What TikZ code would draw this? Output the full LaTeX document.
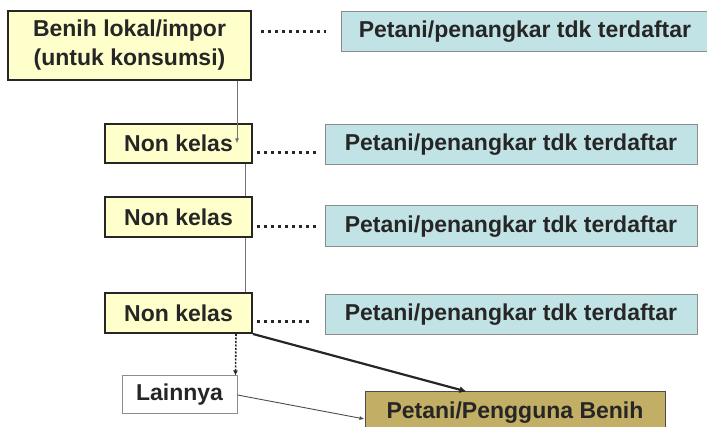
\documentclass[tikz,border=0pt]{standalone}
\usepackage{fontspec}
\setmainfont{Liberation Sans}
\usepackage{tikz}
\usetikzlibrary{arrows.meta,positioning,calc}
\definecolor{kuning}{HTML}{FFFFCC}
\definecolor{biru}{HTML}{C2E3E5}
\definecolor{zaitun}{HTML}{C2AE64}

\begin{document}
\begin{tikzpicture}[x=1pt, y=-1pt,
    every node/.style={font=\fontsize{23}{29}\selectfont\bfseries, text=black!85, inner sep=0pt},
    kelas/.style={draw=black!85, line width=2pt, fill=kuning, minimum width=147pt, minimum height=39pt},
    daftar/.style={draw=black!45, line width=1pt, fill=biru, minimum width=372pt, minimum height=40pt},
    titik/.style={line width=3pt, dash pattern=on 3pt off 4pt, black!85},
    alur/.style={black!55, line width=0.9pt}]
    \useasboundingbox (0,0) rectangle (707,427);

    \node[kelas, minimum width=243pt, minimum height=69pt, align=center] (src) at (129.5,45.5) {\raisebox{-3pt}{Benih lokal/impor}\\\raisebox{-3pt}{(untuk konsumsi)}};
    \node[daftar, minimum width=368pt] (reg1) at (525,32) {Petani/penangkar tdk terdaftar};

    \node[kelas] (nk1) at (178.5,143.5) {Non kelas};
    \node[kelas, minimum height=40pt] (nk2) at (178.5,217) {Non kelas};
    \node[kelas, minimum height=40pt] (nk3) at (178.5,313) {Non kelas};
    \node[daftar] (reg2) at (511,145) {Petani/penangkar tdk terdaftar};
    \node[daftar, minimum height=41pt] (reg3) at (511,226.5) {Petani/penangkar tdk terdaftar};
    \node[daftar] (reg4) at (511,315) {Petani/penangkar tdk terdaftar};

    \node[draw=black!45, line width=1pt, fill=white, minimum width=115pt, minimum height=38pt] (lain) at (179.5,395) {Lainnya};
    \node[draw=black!70, line width=1pt, fill=zaitun, minimum width=300pt, minimum height=40pt, text depth=0pt] (user) at (515,412) {\raisebox{4pt}{Petani/Pengguna Benih}};

    % garis titik ke penangkar
    \draw[titik, shorten <=9pt, shorten >=15pt] (src.east |- reg1.west) -- (reg1.west);
    \draw[titik, shorten <=4pt, shorten >=5pt] ([yshift=-9pt]nk1.east) -- ([yshift=-9pt]nk1.east -| reg2.west);
    \draw[titik, shorten <=4pt, shorten >=5pt] (nk2.east |- reg3.west) -- (reg3.west);
    \draw[titik, shorten <=4pt, shorten >=13pt] ([yshift=-9pt]nk3.east) -- ([yshift=-9pt]nk3.east -| reg4.west);

    % alur benih
    \draw[alur, -{Latex[length=5pt,width=4pt]}] ([xshift=-15pt]src.south east) -- ([xshift=-15pt]src.south east |- nk1.center);
    \draw[alur] ([xshift=-8pt]nk1.south east) -- ([xshift=-8pt]nk2.north east);
    \draw[alur] ([xshift=-8pt]nk2.south east) -- ([xshift=-8pt]nk3.north east);
    \draw[black!85, line width=1.6pt, dash pattern=on 2pt off 1.5pt, -{Latex[length=5pt,width=5pt]}] ([xshift=-17pt]nk3.south east) -- ([xshift=-2pt]lain.north east);
    \draw[black!85, line width=2.2pt, -{Latex[length=7pt,width=7pt]}] (nk3.south east) -- ([xshift=102pt]user.north west);
    \draw[alur, black!70, -{Latex[length=5pt,width=4pt]}] (lain.east) -- ([yshift=-7pt]user.west);
\end{tikzpicture}
\end{document}
